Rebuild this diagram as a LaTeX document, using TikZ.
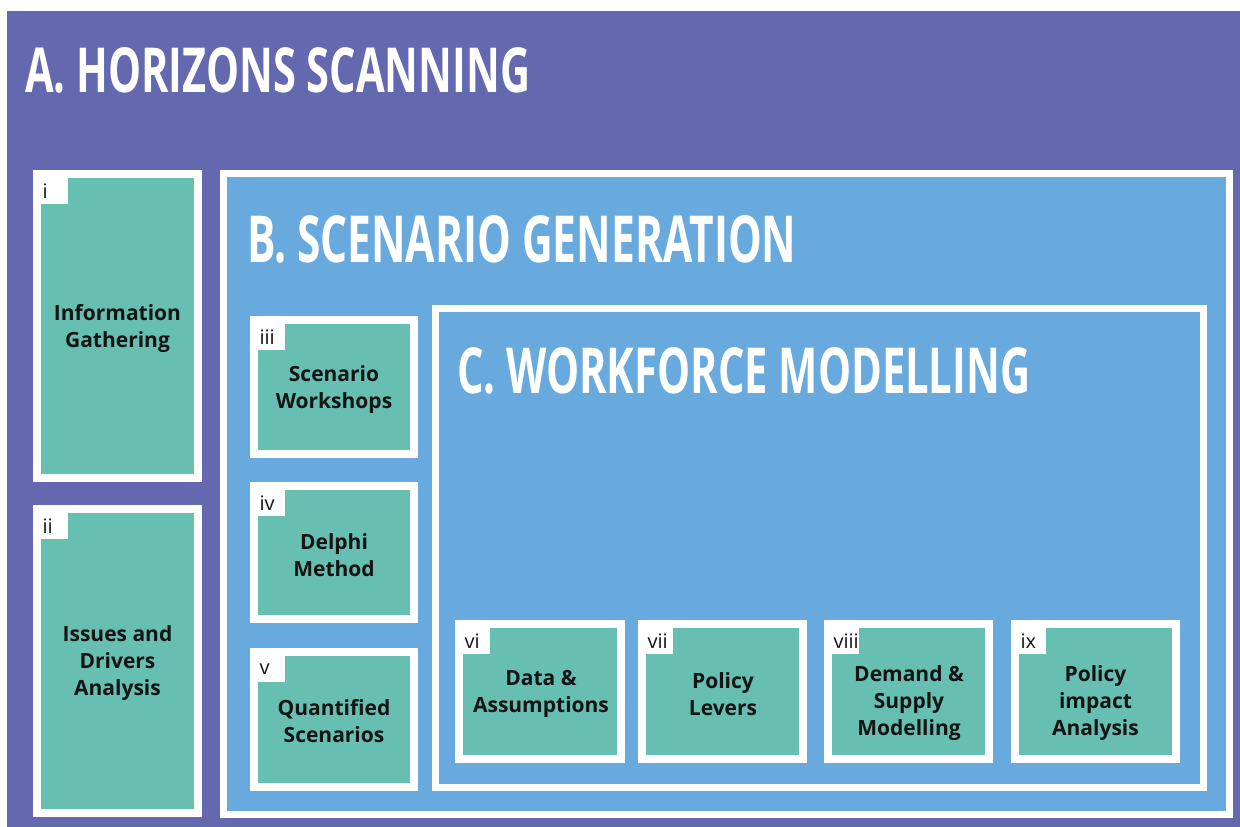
\documentclass[tikz,border=0pt]{standalone}
\usepackage{fontspec}
\setmainfont{Open Sans}
\usepackage{graphicx}
\usetikzlibrary{calc}
\definecolor{hpurple}{HTML}{6468AF}
\definecolor{hblue}{HTML}{68AADD}
\definecolor{hteal}{HTML}{67BFB2}
\definecolor{htext}{HTML}{141414}
\begin{document}
\begin{tikzpicture}[x=1pt,y=-1pt,
  tealbox/.style={draw=white, fill=hteal, line width=8pt, outer sep=0pt, inner sep=0pt},
  bluebox/.style={draw=white, fill=hblue, line width=7pt, outer sep=0pt, inner sep=0pt},
  numtab/.style={fill=white, anchor=north west, text width=24pt, inner xsep=1.5pt, inner ysep=0pt,
    minimum height=26pt, align=left, font=\fontsize{20}{22}\selectfont, text=htext, outer sep=0pt},
  boxtext/.style={align=center, font=\fontsize{21}{27}\selectfont\bfseries, text=htext, inner sep=0pt},
  headline/.style={anchor=north west, inner sep=0pt, text=white, font=\bfseries}]
\useasboundingbox (0,0) rectangle (1240,827);
\fill[white] (0,0) rectangle (1240,827);
\fill[hpurple] (7,11) rectangle (1240,827);

% A. Horizons scanning
\node[headline] (ta) at (25,47) {\resizebox{505pt}{45pt}{A. HORIZONS SCANNING}};
\node[tealbox, minimum width=161pt, minimum height=304pt] (bi) at (117.5,326) {};
\node[tealbox, minimum width=161pt, minimum height=304pt] (bii) at (117.5,661) {};
\node[numtab] (li) at ($(bi.north west)+(4,4)$) {i};
\node[numtab] (lii) at ($(bii.north west)+(4,4)$) {ii};
\node[boxtext] (xi) at (117.5,328) {Information\\Gathering};
\node[boxtext] (xii) at (117.5,663) {Issues and\\Drivers\\Analysis};

% B. Scenario generation
\node[bluebox, minimum width=1006pt, minimum height=641pt] (bB) at (726.5,494) {};
\node[headline] (tb) at (247,215) {\resizebox{549pt}{47pt}{B. SCENARIO GENERATION}};
\node[tealbox, minimum width=160pt, minimum height=134pt] (biii) at (334,387) {};
\node[tealbox, minimum width=160pt, minimum height=133pt] (biv) at (334,552.5) {};
\node[tealbox, minimum width=160pt, minimum height=135pt] (bv) at (334,719.5) {};
\node[numtab] (liii) at ($(biii.north west)+(4,4)$) {iii};
\node[numtab] (liv) at ($(biv.north west)+(4,4)$) {iv};
\node[numtab] (lv) at ($(bv.north west)+(4,4)$) {v};
\node[boxtext] (xiii) at (334,390) {Scenario\\Workshops};
\node[boxtext] (xiv) at (334,555) {Delphi\\Method};
\node[boxtext] (xv) at (334,721) {Quantified\\Scenarios};

% C. Workforce modelling
\node[bluebox, minimum width=768pt, minimum height=479pt] (bC) at (819.5,548) {};
\node[headline] (tc) at (457,347) {\resizebox{573pt}{46pt}{C. WORKFORCE MODELLING}};
\node[tealbox, minimum width=162pt, minimum height=135pt] (bvi) at (540,691.5) {};
\node[tealbox, minimum width=161pt, minimum height=135pt] (bvii) at (722.5,691.5) {};
\node[tealbox, minimum width=161pt, minimum height=135pt] (bviii) at (908.5,691.5) {};
\node[tealbox, minimum width=161pt, minimum height=135pt] (bix) at (1095.5,691.5) {};
\node[numtab] (lvi) at ($(bvi.north west)+(4,4)$) {vi};
\node[numtab] (lvii) at ($(bvii.north west)+(4,4)$) {vii};
\node[numtab] (lviii) at ($(bviii.north west)+(4,4)$) {viii};
\node[numtab] (lix) at ($(bix.north west)+(4,4)$) {ix};
\node[boxtext] (xvi) at (541,694) {Data \&\\Assumptions};
\node[boxtext] (xvii) at (723,694) {Policy\\Levers};
\node[boxtext] (xviii) at (909,703) {Demand \&\\Supply\\Modelling};
\node[boxtext] (xix) at (1095.5,703) {Policy\\impact\\Analysis};
\end{tikzpicture}
\end{document}
